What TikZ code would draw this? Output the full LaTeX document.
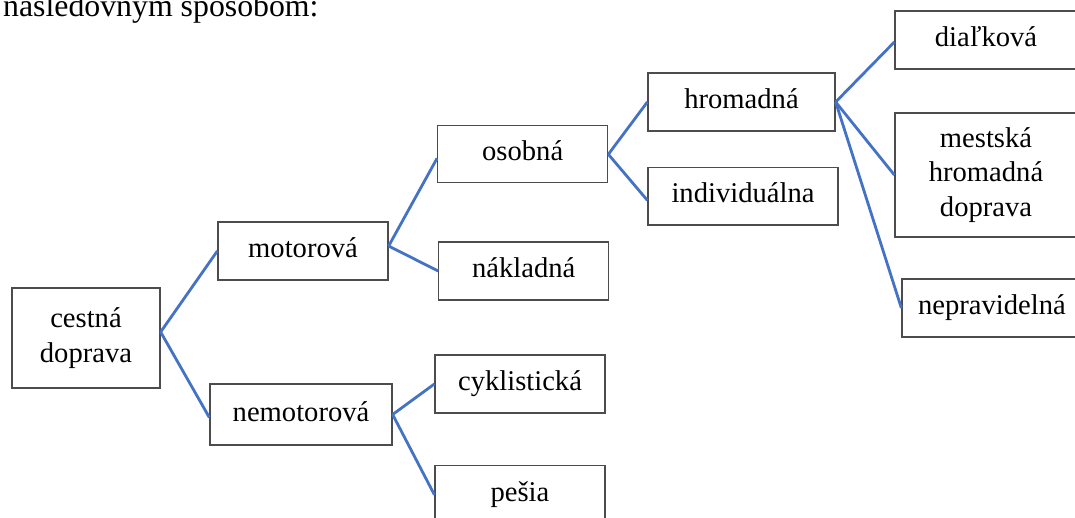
\documentclass[tikz,border=0pt]{standalone}
\usepackage{fontspec}
\setmainfont{Liberation Serif}
\definecolor{linkblue}{HTML}{4472C4}

\begin{document}
\begin{tikzpicture}[x=1pt, y=-1pt,
	every node/.style={inner sep=0pt, font=\fontsize{28.6}{34.5}\selectfont},
	box/.style={rectangle, draw=black!70, line width=1.3pt, align=center, minimum height=58pt},
	oneline/.style={box, text height=20pt, text depth=7pt},
	branch/.style={draw=linkblue, line width=2.8pt}]
		\useasboundingbox (0,0) rectangle (1075,517);
		\clip (0,0) rectangle (1075,517);
		%Caption line
		\node [anchor=base west, font=\fontsize{31.8}{38}\selectfont] (caption) at (3,16) {nasledovným spôsobom:};
		%Root
		\node [box, minimum width=148pt, minimum height=100pt] (cestna) at (86,338) {cestná\\doprava};
		%Kinds
		\node [oneline, minimum width=170pt] (motorova) at (303,251) {motorová};
		\node [oneline, minimum width=182pt, minimum height=61pt] (nemotorova) at (301,414.5) {nemotorová};
		\draw [branch] ([yshift=6pt]cestna.east) -- (motorova.west);
		\draw [branch] ([yshift=6pt]cestna.east) -- ([yshift=-3pt]nemotorova.west);
		%Motor
		\node [oneline, minimum width=170pt, minimum height=57pt] (osobna) at (522.7,154.3) {osobná};
		\node [oneline, minimum width=170pt] (nakladna) at (523.8,271) {nákladná};
		\draw [branch] ([yshift=5pt]motorova.east) -- ([yshift=-4pt]osobna.west);
		\draw [branch] ([yshift=5pt]motorova.east) -- (nakladna.west);
		%Non-motor
		\node [oneline, minimum width=170pt] (cyklisticka) at (520,384) {cyklistická};
		\node [oneline, minimum width=170pt] (pesia) at (520,494.7) {pešia};
		\draw [branch] (nemotorova.east) -- (cyklisticka.west);
		\draw [branch] (nemotorova.east) -- (pesia.west);
		%Passenger
		\node [oneline, minimum width=187pt] (hromadna) at (741.5,102) {hromadná};
		\node [oneline, minimum width=190pt, minimum height=57.5pt] (individualna) at (743,196.3) {individuálna};
		\draw [branch] (osobna.east) -- (hromadna.west);
		\draw [branch] (osobna.east) -- ([yshift=-4pt]individualna.west);
		%Public
		\node [oneline, minimum width=182pt] (dialkova) at (986,40) {diaľková};
		\node [box, minimum width=182pt, minimum height=124pt] (mestska) at (986,175) {mestská\\hromadná\\doprava};
		\node [oneline, minimum width=180pt] (nepravidelna) at (992,308) {nepravidelná};
		\draw [branch] (hromadna.east) -- ([yshift=-2pt]dialkova.west);
		\draw [branch] (hromadna.east) -- (mestska.west);
		\draw [branch] (hromadna.east) -- (nepravidelna.west);
\end{tikzpicture}
\end{document}
